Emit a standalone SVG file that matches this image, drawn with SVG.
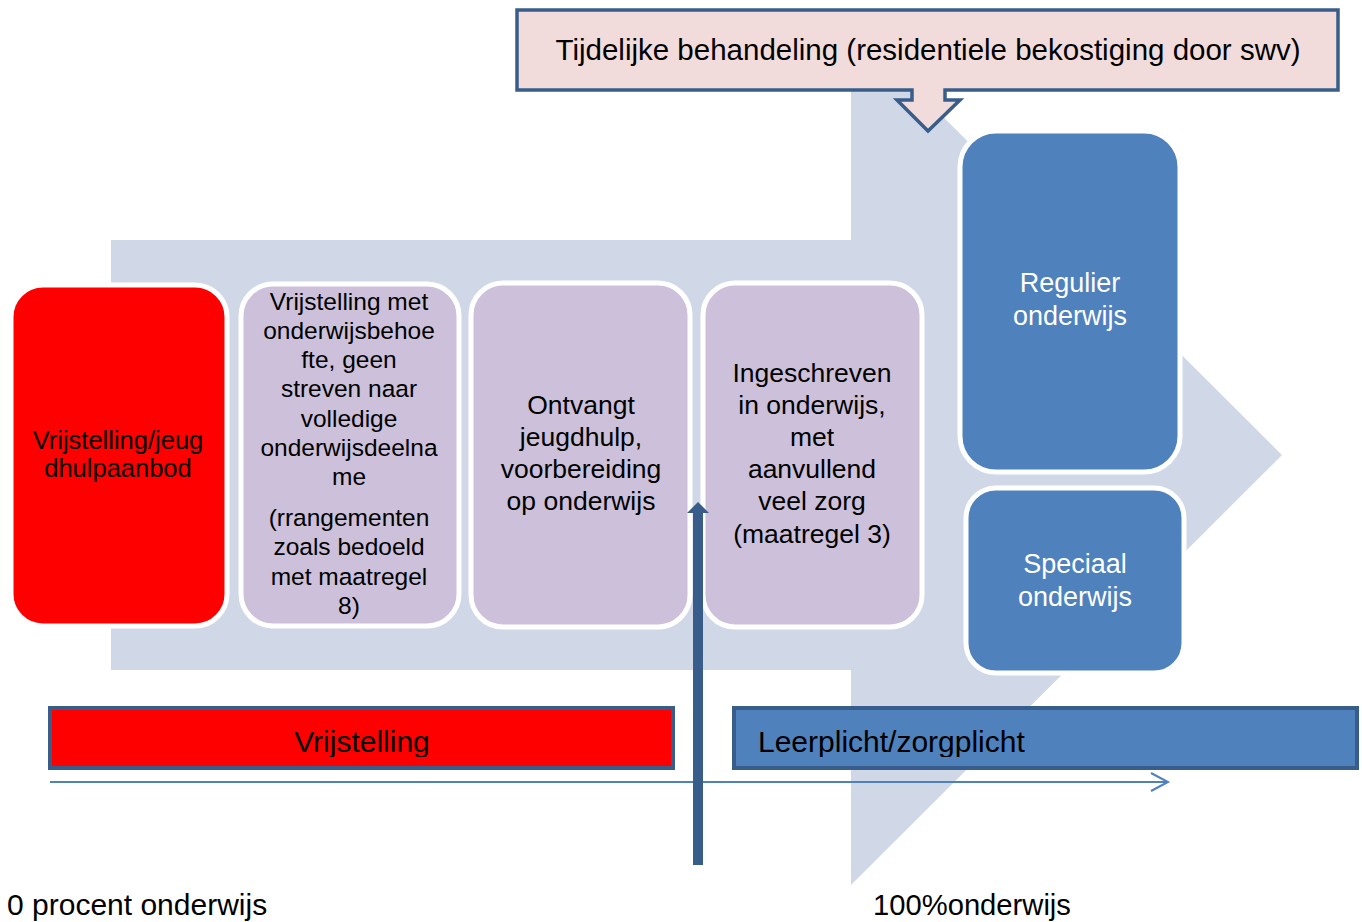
<svg xmlns="http://www.w3.org/2000/svg" width="1362" height="922" viewBox="0 0 1362 922">
<style>
  text { font-family: "Liberation Sans", Arial, sans-serif; }
  .box { stroke: #ffffff; stroke-width: 5; }
  .red { fill: #ff0000; }
  .lav { fill: #ccc0da; }
  .blue { fill: #4f81bd; }
  .t { font-size: 24.5px; fill: #000; text-anchor: middle; }
  .t1 { font-size: 25.5px; fill: #000; text-anchor: middle; }
  .t2 { font-size: 26.5px; fill: #000; text-anchor: middle; }
  .w { font-size: 27px; fill: #fff; text-anchor: middle; }
  .bar { stroke: #385d8a; stroke-width: 4; }
  .bt { font-size: 30px; fill: #000; }
  .lab { font-size: 30px; fill: #000; }
</style>
<defs>
  <clipPath id="clipL"><rect x="50" y="708" width="623" height="49"/></clipPath>
  <clipPath id="clipR"><rect x="734" y="708" width="623" height="49"/></clipPath>
</defs>
<rect width="1362" height="922" fill="#ffffff"/>

<g id="background-arrow">
  <path d="M111,240 H851 V25 L1282,455 L851,885 V670 H111 Z" fill="#d0d8e8"/>
</g>

<g id="callout">
  <path d="M517,10 H1338 V90 H945 V100 H960 L928,131 L897,100 H912 V90 H517 Z" fill="#f2dcdb" stroke="#385d8a" stroke-width="3.5" stroke-linejoin="miter"/>
  <text x="928" y="60" font-size="29.5" text-anchor="middle" fill="#000">Tijdelijke behandeling (residentiele bekostiging door swv)</text>
</g>

<g id="node-vrijstelling-jeugdhulp">
  <rect class="box red" x="11" y="285" width="216" height="341" rx="32"/>
  <text class="t1" x="118" y="449">Vrijstelling/jeug</text>
  <text class="t1" x="118" y="477">dhulpaanbod</text>
</g>

<g id="node-vrijstelling-met">
  <rect class="box lav" x="241" y="284" width="218" height="342" rx="32"/>
  <text class="t" x="349" y="310">Vrijstelling met</text>
  <text class="t" x="349" y="339">onderwijsbehoe</text>
  <text class="t" x="349" y="368">fte, geen</text>
  <text class="t" x="349" y="397">streven naar</text>
  <text class="t" x="349" y="427">volledige</text>
  <text class="t" x="349" y="456">onderwijsdeelna</text>
  <text class="t" x="349" y="485">me</text>
  <text class="t" x="349" y="526">(rrangementen</text>
  <text class="t" x="349" y="555">zoals bedoeld</text>
  <text class="t" x="349" y="585">met maatregel</text>
  <text class="t" x="349" y="614">8)</text>
</g>

<g id="node-ontvangt">
  <rect class="box lav" x="471" y="283" width="219" height="344" rx="32"/>
  <text class="t2" x="581" y="414">Ontvangt</text>
  <text class="t2" x="581" y="446">jeugdhulp,</text>
  <text class="t2" x="581" y="478">voorbereiding</text>
  <text class="t2" x="581" y="510">op onderwijs</text>
</g>

<g id="node-ingeschreven">
  <rect class="box lav" x="703" y="283" width="219" height="344" rx="32"/>
  <text class="t2" x="812" y="382">Ingeschreven</text>
  <text class="t2" x="812" y="414">in onderwijs,</text>
  <text class="t2" x="812" y="446">met</text>
  <text class="t2" x="812" y="478">aanvullend</text>
  <text class="t2" x="812" y="510">veel zorg</text>
  <text class="t2" x="812" y="543">(maatregel 3)</text>
</g>

<g id="node-regulier">
  <rect class="box blue" x="960" y="131" width="220" height="341" rx="36"/>
  <text class="w" x="1070" y="292">Regulier</text>
  <text class="w" x="1070" y="325">onderwijs</text>
</g>

<g id="node-speciaal">
  <rect class="box blue" x="966" y="488" width="218" height="185" rx="30"/>
  <text class="w" x="1075" y="573">Speciaal</text>
  <text class="w" x="1075" y="606">onderwijs</text>
</g>

<g id="bar-vrijstelling">
  <rect class="bar red" x="50" y="708" width="623" height="60"/>
  <text class="bt" x="362" y="752" text-anchor="middle" clip-path="url(#clipL)">Vrijstelling</text>
</g>

<g id="bar-leerplicht">
  <rect class="bar blue" x="734" y="708" width="623" height="60"/>
  <text class="bt" x="758" y="752" clip-path="url(#clipR)">Leerplicht/zorgplicht</text>
</g>

<g id="connectors">
  <line x1="50" y1="782" x2="1167" y2="782" stroke="#4f81bd" stroke-width="2"/>
  <polyline points="1151,773 1168,782 1151,791" fill="none" stroke="#4f81bd" stroke-width="2"/>
  <rect x="693" y="512" width="10" height="353" fill="#385d8a"/>
  <polygon points="687,513 709,513 698,502" fill="#385d8a"/>
</g>

<g id="labels">
  <text class="lab" x="7" y="915">0 procent onderwijs</text>
  <text class="lab" x="873" y="915" style="font-size:29.2px">100%onderwijs</text>
</g>
</svg>
